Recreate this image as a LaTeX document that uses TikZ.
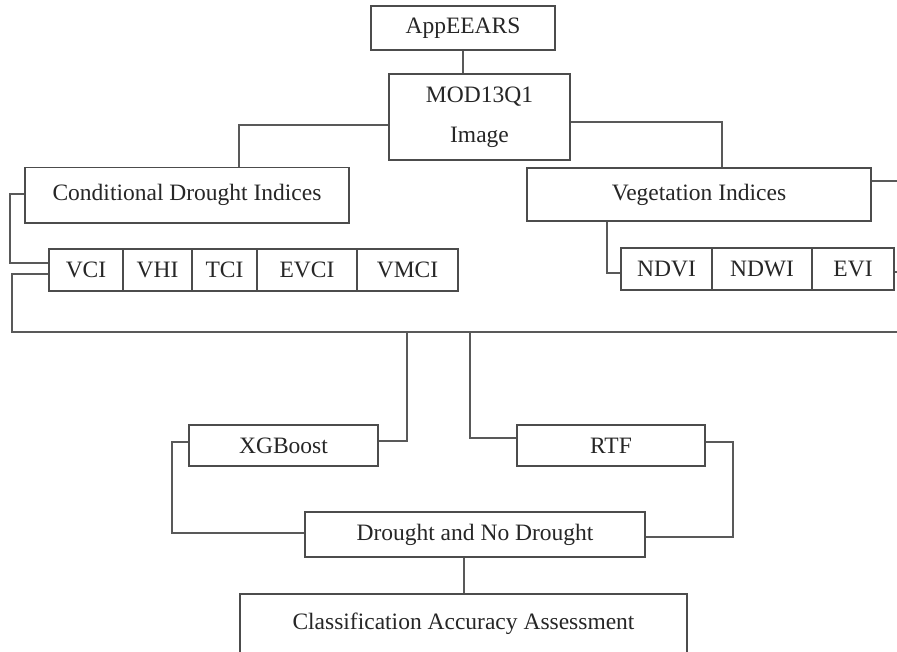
\documentclass[tikz,border=0pt]{standalone}
\usepackage{fontspec}
\setmainfont{Liberation Serif}
\begin{document}
\begin{tikzpicture}[x=1pt,y=-1pt,
  box/.style={draw=black!70, line width=1.3pt, rectangle, inner sep=0pt, anchor=center,
    font=\fontsize{23.5}{40}\selectfont, text=black!85, align=center},
  conn/.style={draw=black!65, line width=1.3pt}]
\useasboundingbox (0,0) rectangle (897,651);
% boxes
\node[box, minimum width=184pt, minimum height=44pt] (app) at (463,28) {AppEEARS};
\node[box, minimum width=181pt, minimum height=86pt] (mod) at (479.5,117) {MOD13Q1\\Image};
\node[box, minimum width=324pt, minimum height=55.5pt] (cdi) at (187,195.25) {Conditional Drought Indices};
\node[box, minimum width=344pt, minimum height=53pt] (vi) at (699,194.5) {Vegetation Indices};
% conditional indices row
\node[box, minimum width=74pt, minimum height=42pt] (vci) at (86,270) {VCI};
\node[box, minimum width=69pt, minimum height=42pt] (vhi) at (157.5,270) {VHI};
\node[box, minimum width=65pt, minimum height=42pt] (tci) at (224.5,270) {TCI};
\node[box, minimum width=100pt, minimum height=42pt] (evci) at (307,270) {EVCI};
\node[box, minimum width=101pt, minimum height=42pt] (vmci) at (407.5,270) {VMCI};
% vegetation indices row
\node[box, minimum width=91pt, minimum height=42pt] (ndvi) at (666.5,269) {NDVI};
\node[box, minimum width=100pt, minimum height=42pt] (ndwi) at (762,269) {NDWI};
\node[box, minimum width=82pt, minimum height=42pt] (evi) at (853,269) {EVI};
% models
\node[box, minimum width=189pt, minimum height=41pt] (xgb) at (283.5,445.5) {XGBoost};
\node[box, minimum width=188pt, minimum height=41pt] (rtf) at (611,445.5) {RTF};
\node[box, minimum width=340pt, minimum height=45pt] (dnd) at (475,534.5) {Drought and No Drought};
\node[box, minimum width=447pt, minimum height=60pt] (caa) at (463.5,624) {Classification Accuracy Assessment};
% free ends / bus points
\coordinate (busR) at (897,332);
\coordinate (edgeVI) at (897,181);
\coordinate (edgeEVI) at (897,272);
\coordinate (busX) at (407,332);
\coordinate (busT) at (470,332);
% connectors
\draw[conn] (app.south) -- (app.south |- mod.north);
\draw[conn] (mod.west |- 0,125) -- (239,125) -- (239,0 |- cdi.north);
\draw[conn] (mod.east |- 0,122) -- (722,122) -- (722,0 |- vi.north);
\draw[conn] (cdi.west |- 0,194) -- (10,194) -- (10,263) -- (vci.west |- 0,263);
\draw[conn] (vci.west |- 0,274) -- (12,274) -- (12,332) -- (busR);
\draw[conn] (607,0 |- vi.south) |- (ndvi.west |- 0,273);
\draw[conn] (vi.east |- 0,181) -- (edgeVI);
\draw[conn] (evi.east |- 0,272) -- (edgeEVI);
\draw[conn] (busX) |- (xgb.east |- 0,441);
\draw[conn] (busT) |- (rtf.west |- 0,438);
\draw[conn] (xgb.west |- 0,442) -- (172,442) |- (dnd.west |- 0,533);
\draw[conn] (rtf.east |- 0,442) -- (733,442) |- (dnd.east |- 0,537);
\draw[conn] (464,0 |- dnd.south) -- (464,0 |- caa.north);
\end{tikzpicture}
\end{document}
